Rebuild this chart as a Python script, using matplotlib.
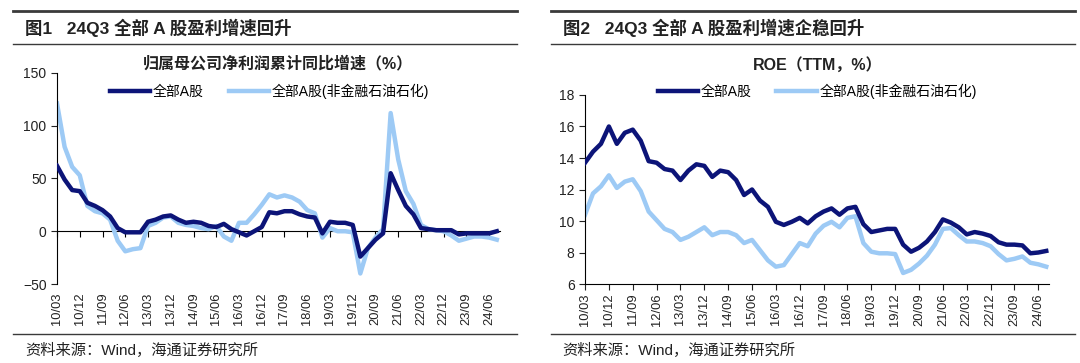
import matplotlib
matplotlib.use("Agg")
import matplotlib.pyplot as plt
from matplotlib.lines import Line2D

plt.rcParams['font.family'] = ['Liberation Sans', 'Noto Sans CJK SC']

# quarterly periods 2010Q1 .. 2024Q3
quarters = [f"{y:02d}/{m:02d}" for y in range(10, 25) for m in (3, 6, 9, 12)][:59]
tick_labels = ["10/03", "10/12", "11/09", "12/06", "13/03", "13/12", "14/09",
               "15/06", "16/03", "16/12", "17/09", "18/06", "19/03", "19/12",
               "20/09", "21/06", "22/03", "22/12", "23/09", "24/06"]

# net profit cumulative YoY growth (%)
growth_all = [62, 49, 39, 38, 27, 24, 20, 14, 3, -1, -1, -1, 9, 11, 14, 15,
              11, 8, 9, 8, 5, 4, 7, 2, -1, -4, 0, 4, 18, 17, 19, 19,
              16, 14, 13, -2, 9, 8, 8, 6, -24, -16, -8, -2, 55, 39, 24, 16,
              3, 2, 1, 1, 1, -3, -2, -2, -2, -2, 0]
growth_exfin = [121, 80, 61, 53, 24, 19, 17, 11, -9, -19, -17, -16, 5, 8, 13, 14,
                8, 6, 5, 3, 2, 5, -5, -9, 8, 8, 16, 25, 35, 32, 34, 32,
                28, 20, 17, -6, 3, 0, 0, -1, -40, -16, -6, 2, 112, 68, 38, 26,
                6, 2, 1, 0, -4, -9, -7, -5, -5, -6, -8]

# ROE (TTM, %)
roe_all = [13.7, 14.4, 14.9, 16.0, 14.9, 15.6, 15.8, 15.1, 13.8, 13.7, 13.3, 13.2,
           12.6, 13.2, 13.6, 13.5, 12.8, 13.2, 13.1, 12.6, 11.65, 12.0, 11.3, 10.9,
           9.95, 9.75, 9.95, 10.2, 9.85, 10.3, 10.6, 10.8, 10.4, 10.8, 10.9, 9.8,
           9.3, 9.4, 9.5, 9.5, 8.5, 8.05, 8.3, 8.7, 9.3, 10.1, 9.9, 9.6,
           9.15, 9.3, 9.2, 9.05, 8.65, 8.5, 8.5, 8.45, 7.95, 8.0, 8.1]
roe_exfin = [10.4, 11.75, 12.2, 12.9, 12.1, 12.5, 12.65, 11.9, 10.6, 10.05, 9.5, 9.3,
             8.8, 9.0, 9.3, 9.6, 9.1, 9.3, 9.3, 9.1, 8.6, 8.8, 8.15, 7.5,
             7.1, 7.2, 7.9, 8.6, 8.4, 9.2, 9.7, 9.95, 9.6, 10.2, 10.3, 8.6,
             8.05, 7.95, 7.95, 7.9, 6.7, 6.9, 7.3, 7.8, 8.5, 9.5, 9.55, 9.1,
             8.7, 8.7, 8.6, 8.4, 7.9, 7.5, 7.6, 7.75, 7.35, 7.25, 7.1]

label_all = "全部A股"
label_exfin = "全部A股(非金融石油石化)"
dark = "#0c1478"
light = "#9dcaf5"
txt = "#222222"

x = list(range(len(quarters)))
tick_pos = [quarters.index(t) for t in tick_labels]

fig = plt.figure(figsize=(10.8, 3.63), dpi=100)

# header / footer rules and texts
for x0, x1 in [(0.012, 0.479), (0.510, 0.995)]:
    fig.add_artist(Line2D([x0, x1], [1 - 11 / 363] * 2, color="#3a3a3a", lw=2))
    fig.add_artist(Line2D([x0, x1], [1 - 44 / 363] * 2, color="#3a3a3a", lw=1))
    fig.add_artist(Line2D([x0, x1], [1 - 334 / 363] * 2, color="#3a3a3a", lw=1))
fig.text(0.023, 1 - 28 / 363, "图1   24Q3 全部 A 股盈利增速回升", fontsize=12.5,
         fontweight="bold", va="center", color=txt)
fig.text(0.521, 1 - 28 / 363, "图2   24Q3 全部 A 股盈利增速企稳回升", fontsize=12.5,
         fontweight="bold", va="center", color=txt)
fig.text(0.023, 1 - 350 / 363, "资料来源：Wind，海通证券研究所", fontsize=11,
         va="center", color=txt)
fig.text(0.521, 1 - 350 / 363, "资料来源：Wind，海通证券研究所", fontsize=11,
         va="center", color=txt)

leg_kw = dict(loc="upper center", ncol=2, frameon=False, fontsize=10,
              handlelength=2.9, columnspacing=1.8, handletextpad=0.2,
              borderaxespad=0)

# left chart
ax1 = fig.add_axes([0.0528, 0.2176, 0.4100, 0.5814])
ax1.plot(x, growth_all, color=dark, lw=3.2, label=label_all, zorder=3)
ax1.plot(x, growth_exfin, color=light, lw=3.2, label=label_exfin, zorder=2)
ax1.set_ylim(-50, 150)
ax1.set_yticks([-50, 0, 50, 100, 150])
ax1.set_xlim(0, 58.4)
ax1.set_xticks(tick_pos)
ax1.set_xticklabels(tick_labels, rotation=90)
ax1.tick_params(axis="x", length=0, pad=6, labelsize=9.3, colors=txt)
ax1.tick_params(axis="y", labelsize=10, length=4, colors=txt)
for s in ["top", "right", "bottom"]:
    ax1.spines[s].set_visible(False)
zero = ax1.secondary_xaxis(0.25)
zero.set_xticks(tick_pos)
zero.set_xticklabels([])
zero.tick_params(length=4, direction="out")
ax1.set_title("归属母公司净利润累计同比增速（%）", fontsize=11.5, fontweight="bold",
              pad=3, color=txt)
ax1.legend(bbox_to_anchor=(0.48, 0.975), **leg_kw)

# right chart
ax2 = fig.add_axes([0.5417, 0.2176, 0.4300, 0.5207])
ax2.plot(x, roe_all, color=dark, lw=3.2, label=label_all, zorder=3)
ax2.plot(x, roe_exfin, color=light, lw=3.2, label=label_exfin, zorder=2)
ax2.set_ylim(6, 18)
ax2.set_yticks(range(6, 19, 2))
ax2.set_xlim(0, 58.4)
ax2.set_xticks(tick_pos)
ax2.set_xticklabels(tick_labels, rotation=90)
ax2.tick_params(axis="x", length=4, pad=2.5, labelsize=9.3, colors=txt)
ax2.tick_params(axis="y", labelsize=10, length=4, colors=txt)
for s in ["top", "right"]:
    ax2.spines[s].set_visible(False)
ax2.set_title("ROE（TTM，%）", fontsize=11.5, fontweight="bold", pad=18,
              color=txt)
ax2.legend(bbox_to_anchor=(0.5, 1.09), **leg_kw)

fig.savefig("out.png", dpi=100)
